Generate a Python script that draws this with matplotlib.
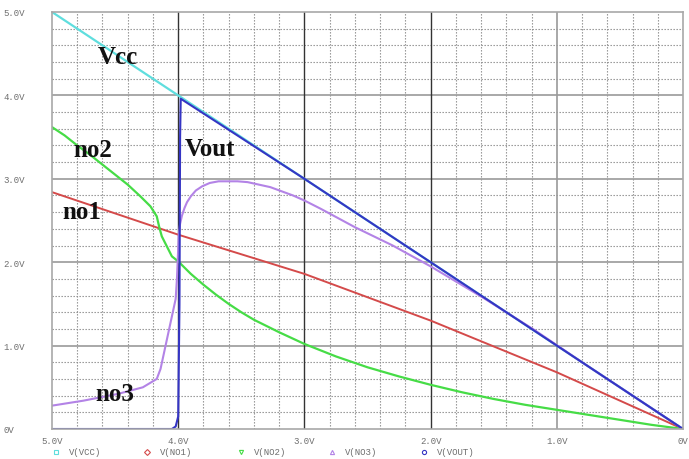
import numpy as np
import matplotlib
matplotlib.use("Agg")
import matplotlib.pyplot as plt

# Sweep axis (Vcc, plotted from 5 V down to 0 V)
vcc_x = [5.0, 0.0]
vcc_y = [5.0, 0.0]

no1_x = [5.0, 4.0, 3.0, 2.0, 1.0, 0.0]
no1_y = [2.84, 2.33, 1.86, 1.30, 0.68, 0.0]

no2_x = [5.0, 4.9, 4.8, 4.7, 4.6, 4.5, 4.4, 4.30, 4.22, 4.17, 4.15, 4.13,
         4.09, 4.05, 4.0, 3.9, 3.8, 3.7, 3.6, 3.5, 3.4, 3.2, 3.0, 2.75,
         2.5, 2.25, 2.0, 1.75, 1.5, 1.25, 1.0, 0.75, 0.5, 0.25, 0.0]
no2_y = [3.62, 3.52, 3.40, 3.29, 3.17, 3.05, 2.93, 2.79, 2.67, 2.55, 2.42, 2.31,
         2.19, 2.07, 2.01, 1.86, 1.73, 1.61, 1.50, 1.40, 1.31, 1.16, 1.02, 0.87,
         0.74, 0.63, 0.53, 0.44, 0.36, 0.29, 0.23, 0.17, 0.11, 0.05, 0.0]

no3_x = [5.0, 4.75, 4.48, 4.28, 4.17, 4.14, 4.10, 4.06, 4.02, 4.01, 3.995,
         3.985, 3.97, 3.95, 3.93, 3.90, 3.86, 3.81, 3.75, 3.68, 3.61, 3.53,
         3.45, 3.36, 3.27, 3.18, 3.09, 3.0, 2.87, 2.60, 2.30, 2.0, 1.59,
         1.18, 0.8, 0.4, 0.0]
no3_y = [0.28, 0.34, 0.42, 0.50, 0.60, 0.72, 1.0, 1.28, 1.56, 1.80, 2.34,
         2.46, 2.56, 2.65, 2.72, 2.79, 2.86, 2.91, 2.95, 2.97, 2.97, 2.97,
         2.96, 2.93, 2.90, 2.85, 2.80, 2.74, 2.64, 2.42, 2.20, 1.95, 1.58,
         1.19, 0.80, 0.40, 0.0]

vout_x = [5.0, 4.05, 4.02, 4.0, 3.99, 3.985, 3.98, 3.0, 2.0, 1.0, 0.0]
vout_y = [0.0, 0.0, 0.03, 0.15, 1.5, 3.5, 3.96, 3.0, 2.0, 1.0, 0.0]

x_ticks = [5.0, 4.0, 3.0, 2.0, 1.0, 0.0]
x_labels = ["5.0V", "4.0V", "3.0V", "2.0V", "1.0V", "0V"]
y_ticks = [0.0, 1.0, 2.0, 3.0, 4.0, 5.0]
y_labels = ["0V", "1.0V", "2.0V", "3.0V", "4.0V", "5.0V"]

legend_names = ["V(VCC)", "V(NO1)", "V(NO2)", "V(NO3)", "V(VOUT)"]
legend_marks = ["s", "D", "v", "^", "o"]

colors = {"vcc": "#5fdede", "no1": "#d44a4a", "no2": "#46dc46",
          "no3": "#b383e6", "vout": "#3535c4"}

fig = plt.figure(figsize=(6.89, 4.60), dpi=100)
ax = fig.add_axes([52 / 689, 30 / 460, 631 / 689, 417 / 460])

ax.set_xlim(5.0, 0.0)
ax.set_ylim(0.0, 5.0)

# minor dotted grid every 0.2 V
for v in np.arange(0.2, 5.0, 0.2):
    if abs(v - round(v)) > 1e-6:
        ax.axvline(v, color="#8a8a8a", lw=0.8, ls=(0, (1.2, 1.5)), zorder=0)
        ax.axhline(v, color="#8a8a8a", lw=0.8, ls=(0, (1.2, 1.5)), zorder=0)
# major grid
for v in [1.0, 2.0, 3.0, 4.0]:
    ax.axhline(v, color="#9a9a9a", lw=1.2, zorder=0)
for v in [4.0, 3.0, 2.0]:
    ax.axvline(v, color="#333333", lw=1.0, zorder=0)
ax.axvline(1.0, color="#9a9a9a", lw=1.2, zorder=0)

for s in ax.spines.values():
    s.set_color("#a8a8a8")
    s.set_linewidth(1.2)

ax.plot(vcc_x, vcc_y, color=colors["vcc"], lw=1.6)
ax.plot(no1_x, no1_y, color=colors["no1"], lw=1.4)
ax.plot(no2_x, no2_y, color=colors["no2"], lw=1.6)
ax.plot(no3_x, no3_y, color=colors["no3"], lw=1.5)
ax.plot(vout_x, vout_y, color=colors["vout"], lw=1.5)

ax.set_xticks(x_ticks)
ax.set_xticklabels(x_labels)
ax.set_yticks(y_ticks)
ax.set_yticklabels(y_labels, ha="left")
ax.tick_params(length=0, labelsize=6.5, labelcolor="#6e6e6e")
for lab in ax.get_xticklabels() + ax.get_yticklabels():
    lab.set_fontfamily("Liberation Mono")
ax.tick_params(axis="y", pad=35)
ax.tick_params(axis="x", pad=5)

# curve labels
lab_font = dict(family="Liberation Serif", weight="bold", fontsize=18,
                color="#111111", ha="center", va="center")
ax.text(4.48, 4.47, "Vcc", **lab_font)
ax.text(4.68, 3.35, "no2", **lab_font)
ax.text(3.75, 3.36, "Vout", **lab_font)
ax.text(4.76, 2.61, "no1", **lab_font)
ax.text(4.50, 0.42, "no3", **lab_font)

# legend row under the axis
leg_x = [56, 147, 241, 332, 424]
for i, name in enumerate(legend_names):
    c = list(colors.values())[i]
    fig.lines.append(plt.Line2D([leg_x[i] / 689], [1 - 453 / 460],
                                marker=legend_marks[i], ms=3, mfc="none",
                                mec=c, mew=0.8, transform=fig.transFigure))
    fig.text((leg_x[i] + 13) / 689, 1 - 453 / 460, name, fontsize=6.5,
             family="Liberation Mono", color="#6e6e6e", va="center")

fig.savefig("out.png", dpi=100)
